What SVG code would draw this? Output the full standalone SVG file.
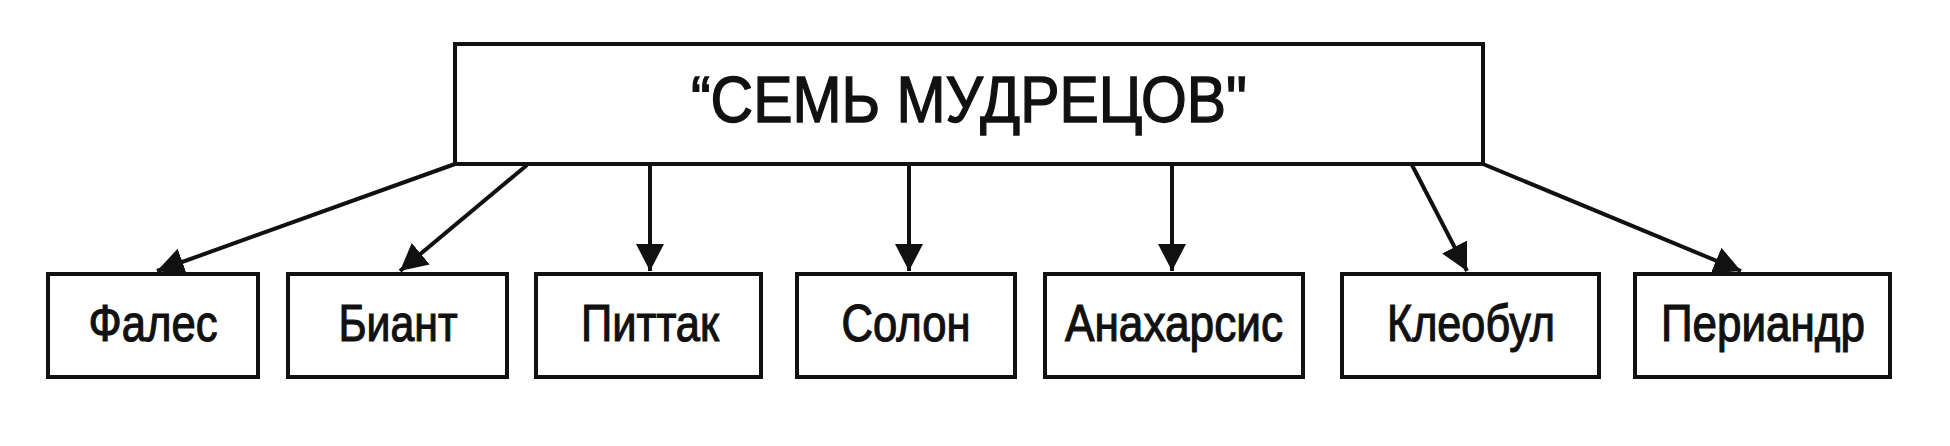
<svg xmlns="http://www.w3.org/2000/svg" width="1950" height="446" viewBox="0 0 1950 446">
<defs>
<style>
.box{fill:#fff;stroke:#111;stroke-width:4}
.lbl{font-family:"Liberation Sans",Arial,sans-serif;font-size:52px;fill:#111;stroke:#111;stroke-width:1.2;text-anchor:middle}
.title{font-family:"Liberation Sans",Arial,sans-serif;font-size:65px;fill:#111;stroke:#111;stroke-width:1.4;text-anchor:middle}
.conn{stroke:#111;stroke-width:4;fill:none;marker-end:url(#arr)}
</style>
<marker id="arr" markerUnits="userSpaceOnUse" markerWidth="30" markerHeight="30" refX="27" refY="14" orient="auto" viewBox="0 0 30 30">
<path d="M0,0 L27,14 L0,28 z" fill="#111"/>
</marker>
</defs>
<rect width="1950" height="446" fill="#fff"/>
<g id="connectors">
<line class="conn" x1="455" y1="164" x2="157" y2="271"/>
<line class="conn" x1="527" y1="165" x2="400" y2="271"/>
<line class="conn" x1="650" y1="165" x2="650" y2="271"/>
<line class="conn" x1="909" y1="165" x2="909" y2="271"/>
<line class="conn" x1="1172" y1="165" x2="1172" y2="271"/>
<line class="conn" x1="1412" y1="165" x2="1467" y2="271"/>
<line class="conn" x1="1483" y1="164" x2="1741" y2="271"/>
</g>
<g id="root">
<rect class="box" x="455" y="44" width="1028" height="120"/>
<text class="title" x="969" y="122" textLength="556" lengthAdjust="spacingAndGlyphs">“СЕМЬ МУДРЕЦОВ"</text>
</g>
<g id="n1">
<rect class="box" x="48" y="274" width="210" height="103"/>
<text class="lbl" x="153" y="341" textLength="129" lengthAdjust="spacingAndGlyphs">Фалес</text>
</g>
<g id="n2">
<rect class="box" x="288" y="274" width="219" height="103"/>
<text class="lbl" x="398" y="341" textLength="119" lengthAdjust="spacingAndGlyphs">Биант</text>
</g>
<g id="n3">
<rect class="box" x="536" y="274" width="225" height="103"/>
<text class="lbl" x="650" y="341" textLength="138" lengthAdjust="spacingAndGlyphs">Питтак</text>
</g>
<g id="n4">
<rect class="box" x="797" y="274" width="218" height="103"/>
<text class="lbl" x="906" y="341" textLength="129" lengthAdjust="spacingAndGlyphs">Солон</text>
</g>
<g id="n5">
<rect class="box" x="1045" y="274" width="258" height="103"/>
<text class="lbl" x="1174" y="341" textLength="218" lengthAdjust="spacingAndGlyphs">Анахарсис</text>
</g>
<g id="n6">
<rect class="box" x="1342" y="274" width="257" height="103"/>
<text class="lbl" x="1471" y="341" textLength="168" lengthAdjust="spacingAndGlyphs">Клеобул</text>
</g>
<g id="n7">
<rect class="box" x="1635" y="274" width="255" height="103"/>
<text class="lbl" x="1763" y="341" textLength="204" lengthAdjust="spacingAndGlyphs">Периандр</text>
</g>
</svg>
